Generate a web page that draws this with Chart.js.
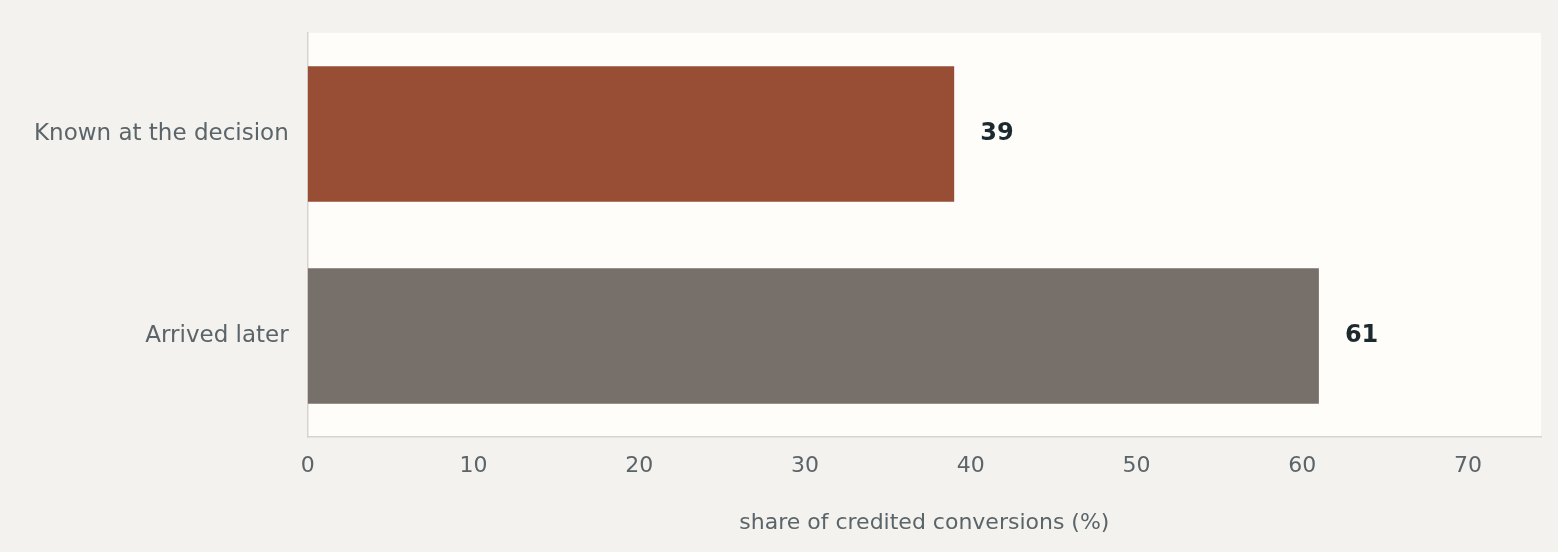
<!DOCTYPE html>
<html><head><meta charset="utf-8">
<script src="https://cdn.jsdelivr.net/npm/chart.js@4/dist/chart.umd.min.js"></script>
<style>html,body{margin:0;padding:0;background:#f3f2ee;}#wrap{width:1558px;height:552px;}</style>
</head><body><div id="wrap"><canvas id="c"></canvas></div>
<script>
const categories = ["Known at the decision", "Arrived later"];
const values = [39, 61];
const barColors = ["#984e34", "#776f69"];
const xTicks = [0, 10, 20, 30, 40, 50, 60, 70];

const bgPlugin = {
  id: 'bg',
  beforeDraw(chart) {
    const {ctx, chartArea: a} = chart;
    ctx.save(); ctx.fillStyle = '#fffdf9';
    ctx.fillRect(a.left, a.top, a.right - a.left, a.bottom - a.top); ctx.restore();
  },
  afterDatasetsDraw(chart) {
    const {ctx} = chart;
    const meta = chart.getDatasetMeta(0);
    ctx.save();
    ctx.font = 'bold 24px "DejaVu Sans"';
    ctx.fillStyle = '#1c2a30'; ctx.textBaseline = 'middle'; ctx.textAlign = 'left';
    meta.data.forEach((b, i) => ctx.fillText(String(values[i]), b.x + 26, b.y));
    ctx.restore();
  }
};

new Chart(document.getElementById('c'), {
  type: 'bar',
  data: { labels: categories, datasets: [{ data: values, backgroundColor: barColors, barPercentage: 0.67, categoryPercentage: 1 }] },
  options: {
    indexAxis: 'y', responsive: true, maintainAspectRatio: false, animation: false,
    layout: { padding: { top: 2, right: 17, left: 15, bottom: 12 } },
    plugins: { legend: { display: false }, tooltip: { enabled: false } },
    scales: {
      x: {
        min: 0, max: 74.4,
        afterBuildTicks(s) { s.ticks = xTicks.map(v => ({ value: v })); },
        grid: { display: false, drawTicks: false },
        border: { color: '#d6d4cc', width: 1.5 },
        ticks: { color: '#5a6469', font: { family: 'DejaVu Sans', size: 22 }, padding: 16 },
        title: { display: true, text: 'share of credited conversions (%)', color: '#5a6469', font: { family: 'DejaVu Sans', size: 22 }, padding: { top: 14 } }
      },
      y: {
        grid: { display: false, drawTicks: false },
        border: { color: '#d6d4cc', width: 1.5 },
        ticks: { color: '#5a6469', font: { family: 'DejaVu Sans', size: 23 }, padding: 19 }
      }
    }
  },
  plugins: [bgPlugin]
});
</script></body></html>
